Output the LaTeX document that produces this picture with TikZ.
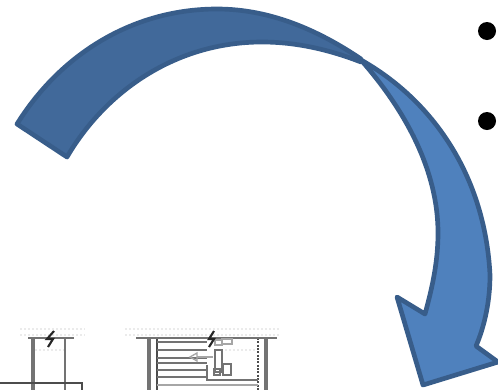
\documentclass[tikz,border=0pt]{standalone}
\definecolor{backfill}{HTML}{41699A}
\definecolor{frontfill}{HTML}{4F81BD}
\definecolor{edge}{HTML}{385D8A}
\tikzset{
  arrowpart/.style={draw=edge,line width=3.5pt,line join=round},
  darkline/.style={draw=black!70,line width=1.2pt},
  midline/.style={draw=black!55,line width=1.2pt},
  heavyline/.style={draw=black!55,line width=3pt},
  softline/.style={draw=black!35,line width=1pt},
  faint/.style={draw=black!8,line width=1.2pt,dash pattern=on 1.5pt off 1.5pt},
  breakmark/.style={draw=black!85,line width=1.6pt}
}
\begin{document}
\begin{tikzpicture}[x=0.75pt,y=-0.75pt]
\useasboundingbox (0,0) rectangle (498,390);
% bullets
\fill (487,31) circle[radius=9];
\fill (487,121) circle[radius=9];
% drawing, left part
\draw[faint] (20,329) -- (85,329);
\draw[faint] (20,335) -- (85,335);
\draw[faint] (35,350) -- (65,350);
\draw[heavyline] (33,338) -- (33,390);
\draw[midline,line width=1.8pt] (65,338) -- (65,390);
\draw[midline,line width=1.5pt] (28,338) -- (74,338);
\draw[darkline,line width=1.5pt] (0,383) -- (82,383) -- (82,390);
\draw[breakmark] (54,331) -- (47,339) -- (53,339) -- (48,347);
% drawing, right part
\draw[faint] (125,329) -- (280,329);
\draw[faint] (125,335) -- (280,335);
\draw[faint] (225,350) -- (255,350);
\draw[heavyline] (149,338) -- (149,390);
\draw[heavyline] (266,338) -- (266,390);
\draw[darkline] (157,338) -- (157,390);
\draw[darkline,dash pattern=on 1.5pt off 1pt] (258,338) -- (258,390);
\draw[midline,line width=1.6pt] (136,338) -- (277,338);
\foreach \yy in {342,350,358,363,370,377}
  \draw[midline] (157,\yy) -- (207,\yy);
\draw[softline] (157,385) -- (258,385);
\draw[softline,line width=2.2pt] (197,357) -- (213,357);
\draw[softline] (190,357) -- (197,353) -- (197,361) -- cycle;
\draw[midline] (207,365) -- (207,380) -- (258,380);
\draw[midline,line width=1pt] (215,350) rectangle (222,372);
\draw[midline,line width=1pt] (214,369) rectangle (220,375);
\draw[midline,line width=1pt] (223,364) rectangle (231,375);
\draw[softline] (215,340) rectangle (222,345);
\draw[softline] (222,339) rectangle (232,344);
\draw[breakmark] (214,331) -- (209,339) -- (214,339) -- (209,347);
% curved arrow, back part
\filldraw[arrowpart,fill=backfill]
  (17,124) .. controls (62,52) and (135,9) .. (217,9)
  .. controls (270,9) and (318,30) .. (361,59)
  -- (361,62) .. controls (330,50) and (297,42) .. (262,42)
  .. controls (175,42) and (105,92) .. (67,157)
  -- cycle;
% curved arrow, front part
\filldraw[arrowpart,fill=frontfill]
  (361,60) .. controls (432,100) and (485,175) .. (490,275)
  .. controls (490,300) and (485,325) .. (476,346)
  -- (498,362) -- (423,385) -- (397,297) -- (425,314)
  .. controls (433,285) and (438,260) .. (438,233)
  .. controls (438,170) and (405,110) .. (361,60)
  -- cycle;
\end{tikzpicture}
\end{document}
